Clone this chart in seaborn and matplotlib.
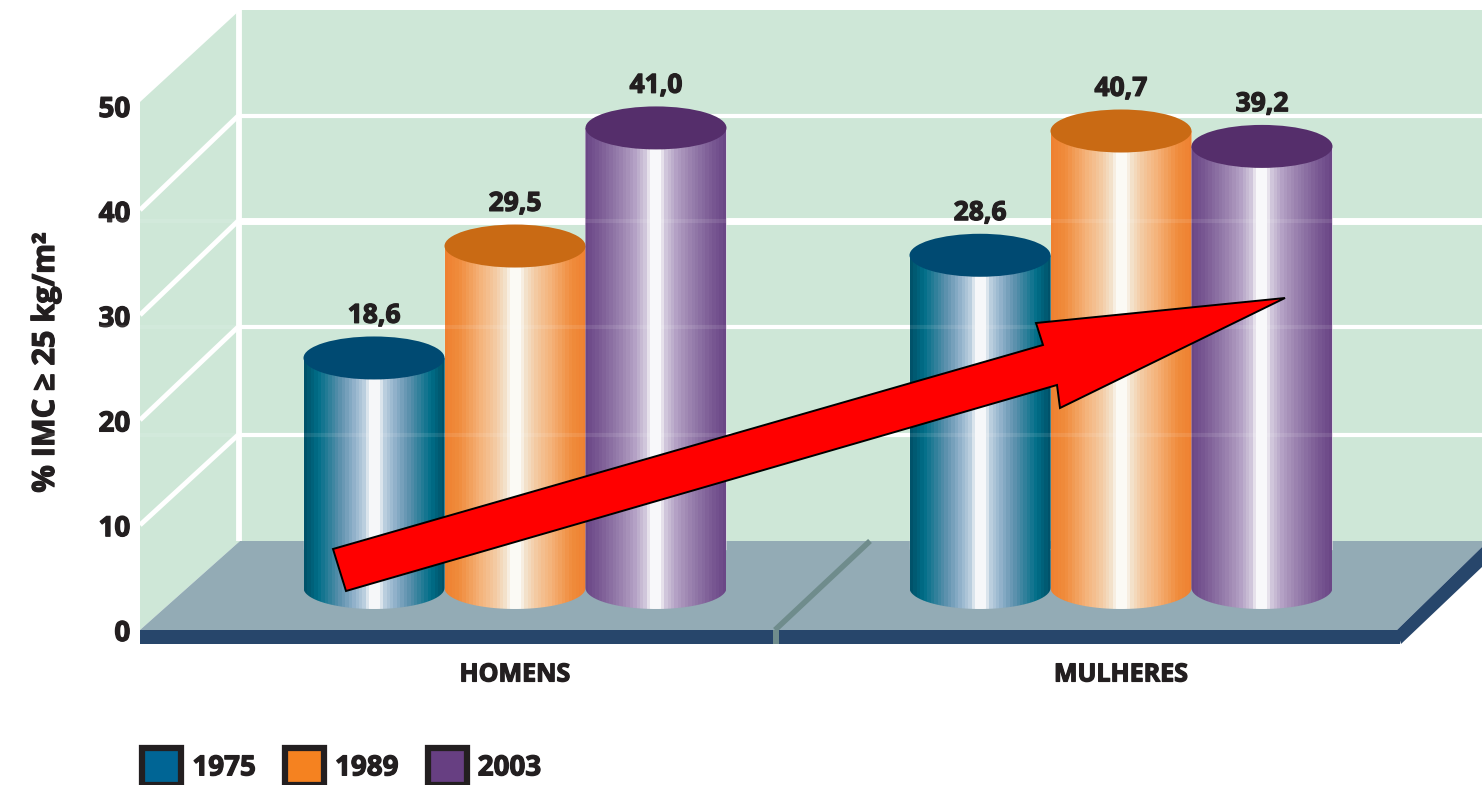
import numpy as np
import pandas as pd
import matplotlib
matplotlib.use("Agg")
import matplotlib.pyplot as plt
import matplotlib.patheffects as pe
import seaborn as sns
from matplotlib.colors import to_rgb
from matplotlib.patches import Ellipse, Patch, Polygon, Rectangle, PathPatch
from matplotlib.path import Path

# Overweight prevalence (% BMI >= 25 kg/m2) by sex and survey year
groups = ["HOMENS", "MULHERES"]
years = ["1975", "1989", "2003"]
homens = [18.6, 29.5, 41.0]
mulheres = [28.6, 40.7, 39.2]
front_ticks = [0, 10, 20, 30, 40, 50]

W, H = 1482, 785
WALL = "#CEE7D7"
FLOOR = "#93ABB5"
EDGE = "#27466B"
INK = "#231F20"
FONT = "Open Sans"

swatches = {"1975": "#006595", "1989": "#F58220", "2003": "#673F82"}
lids = ["#004A72", "#C96A14", "#552E6B"]
# Shading stops across a cylinder, from its rim to its axis
shades = [
    ["#004F66", "#006E88", "#5F92AE", "#8FB0CA", "#BCD0DF", "#F6F7F9"],
    ["#EF8030", "#F08C3C", "#F5B57E", "#F3C9A0", "#F3E2CC", "#FBFAF5"],
    ["#6A4585", "#7A5A94", "#9C84B0", "#B3A0C4", "#D2C8DC", "#F8F8FA"],
]
shade_pos = [0.0, 0.1, 0.26, 0.35, 0.43, 0.47]
heavy = [pe.withStroke(linewidth=0.9, foreground=INK)]


def pixel_axes(zorder):
    """Whole-figure axes addressed in image pixels, for the stage scenery."""
    a = fig.add_axes([0, 0, 1, 1], zorder=zorder)
    a.set_xlim(0, W)
    a.set_ylim(H, 0)
    a.axis("off")
    a.patch.set_alpha(0)
    return a


def band_image(stops, n=41):
    """One row of colour bands, symmetric around the cylinder axis."""
    t = np.abs((np.arange(n) + 0.5) / n - 0.5)
    t = 0.5 - t
    rgb = np.array([to_rgb(c) for c in stops])
    row = np.stack([np.interp(t, shade_pos, rgb[:, i]) for i in range(3)], axis=1)
    return row[np.newaxis, :, :]


sns.set_theme(style="white")
plt.rcParams["font.family"] = [FONT, "DejaVu Sans"]
plt.rcParams["font.weight"] = "bold"

fig = plt.figure(figsize=(W / 100, H / 100), dpi=100, facecolor="white")

# Scenery behind the bars: walls, grid and floor
stage = pixel_axes(0)
stage.add_patch(Polygon([(140, 102), (240, 10), (1482, 10), (1482, 541), (240, 541), (140, 630)],
                        fc=WALL, ec="none"))
for y_back, y_front, lw in [(435, 525, 3), (327, 420, 3), (221, 315, 5), (116, 210, 3)]:
    stage.plot([240, W], [y_back, y_back], color="white", lw=lw, solid_capstyle="butt")
    stage.plot([140, 238], [y_front, y_back], color="white", lw=3.5, solid_capstyle="butt")
stage.plot([239, 239], [10, 541], color="white", lw=4.2, solid_capstyle="butt")
stage.add_patch(Polygon([(140, 630), (240, 541), (1482, 541), (1482, 547), (1397, 630)],
                        fc=FLOOR, ec="none"))
stage.plot([775, 870], [630, 541], color="#6F8C8C", lw=4, solid_capstyle="butt")
stage.add_patch(Rectangle((140, 630), 1260, 13.5, fc=EDGE, ec="none"))
stage.add_patch(Polygon([(1397, 630), (1482, 547), (1482, 567), (1401, 644)], fc=EDGE, ec="none"))
stage.add_patch(Rectangle((773, 630), 6, 13.5, fc="#6F8C8C", ec="none"))

# Front-plane value axis, with its own scale
scale_ax = fig.add_axes([140 / W, 1 - 630 / H, 1 / W, (630 - 106) / H], zorder=1)
scale_ax.set_ylim(0, 50)
scale_ax.set_xticks([])
scale_ax.set_yticks(front_ticks)
scale_ax.tick_params(axis="y", length=0, pad=7, labelsize=20, colors=INK)
scale_ax.patch.set_alpha(0)
sns.despine(ax=scale_ax, left=True, bottom=True)
scale_ax.set_ylabel("% IMC ≥ 25 kg/m²", fontsize=22, fontweight="bold", color=INK,
                    labelpad=27, y=0.51)

# Bars: 10.27 px per percentage point, zero at y = 549 px, group spacing 606 px
ax_bottom = 643
ax = fig.add_axes([0, 1 - ax_bottom / H, 1, ax_bottom / H], zorder=2)
ax.patch.set_alpha(0)
df = pd.DataFrame({
    "grupo": np.repeat(groups, len(years)),
    "ano": years * len(groups),
    "imc": homens + mulheres,
})
sns.barplot(data=df, x="grupo", y="imc", hue="ano", order=groups, hue_order=years,
            palette=swatches, width=0.698, gap=0, saturation=1, legend=False,
            errorbar=None, ax=ax, zorder=1)
ax.set_xlim((0 - 515) / 606, (W - 515) / 606)
ax.set_ylim((549 - ax_bottom) / 10.27, 549 / 10.27)
ax.set_xlabel("")
ax.set_ylabel("")
ax.set_yticks([])
ax.tick_params(axis="x", length=0, pad=14, labelsize=18, colors=INK)
sns.despine(ax=ax, left=True, bottom=True)

# Each bar becomes a shaded cylinder with a base sunk into the floor and a lid at its value
lid_h = 43 / 10.27
base_drop = 39 / 10.27
base_h = 42 / 10.27
value_labels = []
for k, container in enumerate(ax.containers):
    for bar in container:
        x0, w, v = bar.get_x(), bar.get_width(), bar.get_height()
        xc = x0 + w / 2
        y0 = -base_drop
        theta = np.linspace(np.pi, 2 * np.pi, 40)
        bottom = np.column_stack([xc + w / 2 * np.cos(theta), y0 + base_h / 2 * np.sin(theta)])
        outline = np.vstack([[x0, v], bottom, [x0 + w, v], [x0, v]])
        codes = [Path.MOVETO] + [Path.LINETO] * (len(outline) - 2) + [Path.CLOSEPOLY]
        clip = PathPatch(Path(outline, codes), transform=ax.transData, fc="none", ec="none")
        ax.add_patch(clip)
        bar.set_clip_path(clip)
        ax.imshow(band_image(shades[k]), extent=(x0, x0 + w, y0 - base_h, v), aspect="auto",
                  interpolation="nearest", zorder=2 + k * 0.1, clip_path=clip, clip_on=True)
        ax.add_patch(Ellipse((xc, v), w, lid_h, fc=lids[k], ec="none", zorder=2.05 + k * 0.1))
    value_labels += ax.bar_label(container,
                                 labels=[f"{b.get_height():.1f}".replace(".", ",") for b in container],
                                 padding=21, fontsize=19, fontweight="bold", color=INK, zorder=6)
ax.set_xlim((0 - 515) / 606, (W - 515) / 606)
ax.set_ylim((549 - ax_bottom) / 10.27, 549 / 10.27)

# Grid faintly visible through the cylinders
for y_back in [435, 327, 221]:
    ax.axhline((549 - y_back) / 10.27, color="white", lw=3, alpha=0.1, zorder=5)

# Legend below the chart
handles = [Patch(facecolor=swatches[y], edgecolor=INK, linewidth=4.5, label=y) for y in years]
legend = fig.legend(handles=handles, ncol=3, loc="lower left", frameon=False,
                    bbox_to_anchor=(141 / W, -1 / H), borderpad=0.05, borderaxespad=0,
                    handlelength=1.4, handleheight=1.65, handletextpad=0.4, columnspacing=1.05,
                    prop={"family": FONT, "weight": "bold", "size": 20}, labelcolor=INK)

# Slightly thickened lettering throughout
for t in (value_labels + list(legend.get_texts()) + scale_ax.get_yticklabels()
          + ax.get_xticklabels() + [scale_ax.yaxis.label]):
    t.set_path_effects(heavy)

# Rising trend arrow over everything
top = pixel_axes(3)
top.add_patch(Polygon([(333, 549), (1043, 345), (1036, 323), (1285, 298), (1060, 408),
                       (1057, 385), (346, 591)],
                      closed=True, fc="#FF0000", ec="black", lw=1.4, joinstyle="miter"))

fig.savefig("out.png", dpi=100, facecolor="white")
